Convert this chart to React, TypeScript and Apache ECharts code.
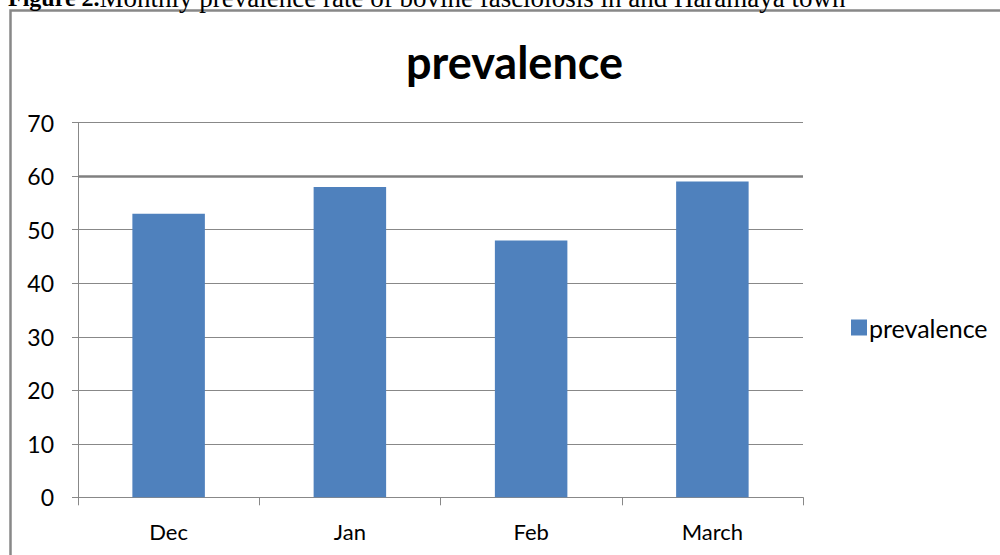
import React, { useEffect, useRef } from "react";
import * as echarts from "echarts";

const categories = ["Dec", "Jan", "Feb", "March"];
const prevalence = [53, 58, 48, 59];
const seriesName = "prevalence";
const titleText = "prevalence";
const captionBold = "Figure 2.";
const captionRest = "Monthly prevalence rate of bovine fasciolosis in and Haramaya town";
const yMin = 0;
const yMax = 70;
const yInterval = 10;

export default function App() {
  const ref = useRef<HTMLDivElement>(null);
  useEffect(() => {
    if (!ref.current) return;
    const chart = echarts.init(ref.current, undefined, { renderer: "svg" });
    const font = "Lato";
    chart.setOption({
      animation: false,
      backgroundColor: "#ffffff",
      title: {
        text: titleText,
        left: 401,
        top: 34,
        textStyle: { fontFamily: font, fontSize: 45, fontWeight: "bold", color: "#000" },
      },
      legend: {
        data: [seriesName],
        left: 846,
        top: 310,
        itemWidth: 16,
        itemHeight: 16,
        itemGap: 5,
        icon: "rect",
        textStyle: { fontFamily: font, fontSize: 25, color: "#000", padding: [0, 0, 0, -3] },
      },
      grid: { left: 78, right: 197, top: 122.7, bottom: 57.7, containLabel: false },
      xAxis: {
        type: "category",
        data: categories,
        axisLine: { show: true, lineStyle: { color: "#888888", width: 1 } },
        axisTick: { show: true, length: 8, alignWithLabel: false, lineStyle: { color: "#888888" } },
        axisLabel: { fontFamily: font, fontSize: 22, color: "#000", margin: 23 },
      },
      yAxis: {
        type: "value",
        min: yMin,
        max: yMax,
        interval: yInterval,
        axisLine: { show: true, lineStyle: { color: "#888888", width: 1 } },
        axisTick: { show: true, length: 6, lineStyle: { color: "#888888" } },
        axisLabel: { fontFamily: font, fontSize: 23, color: "#000", margin: 24 },
        splitLine: { show: true, lineStyle: { color: "#888888", width: 1 } },
      },
      series: [
        {
          name: seriesName,
          type: "bar",
          data: prevalence,
          barWidth: "40%",
          itemStyle: { color: "#4F81BD" },
          markLine: {
            silent: true,
            symbol: "none",
            label: { show: false },
            lineStyle: { color: "#808080", width: 2.5, type: "solid" },
            data: [{ yAxis: 60 }],
            z: 1,
          },
        },
      ],
      graphic: [
        {
          type: "rect",
          shape: { x: 10.5, y: 10.5, width: 1100, height: 700 },
          style: { fill: "none", stroke: "#888888", lineWidth: 2.5 },
          silent: true,
        },
        {
          type: "text",
          x: 8,
          y: 11,
          style: {
            text: "{b|" + captionBold + "}{n|" + captionRest + "}",
            verticalAlign: "bottom",
            rich: {
              b: { fontFamily: "Liberation Serif", fontSize: 24, fontWeight: "bold", fill: "#000" },
              n: { fontFamily: "Liberation Serif", fontSize: 27, fill: "#000" },
            },
          },
        },
      ],
    });
    return () => chart.dispose();
  }, []);
  return (
    <div
      ref={ref}
      style={{ position: "absolute", left: 0, top: 0, width: 1000, height: 555 }}
    />
  );
}
